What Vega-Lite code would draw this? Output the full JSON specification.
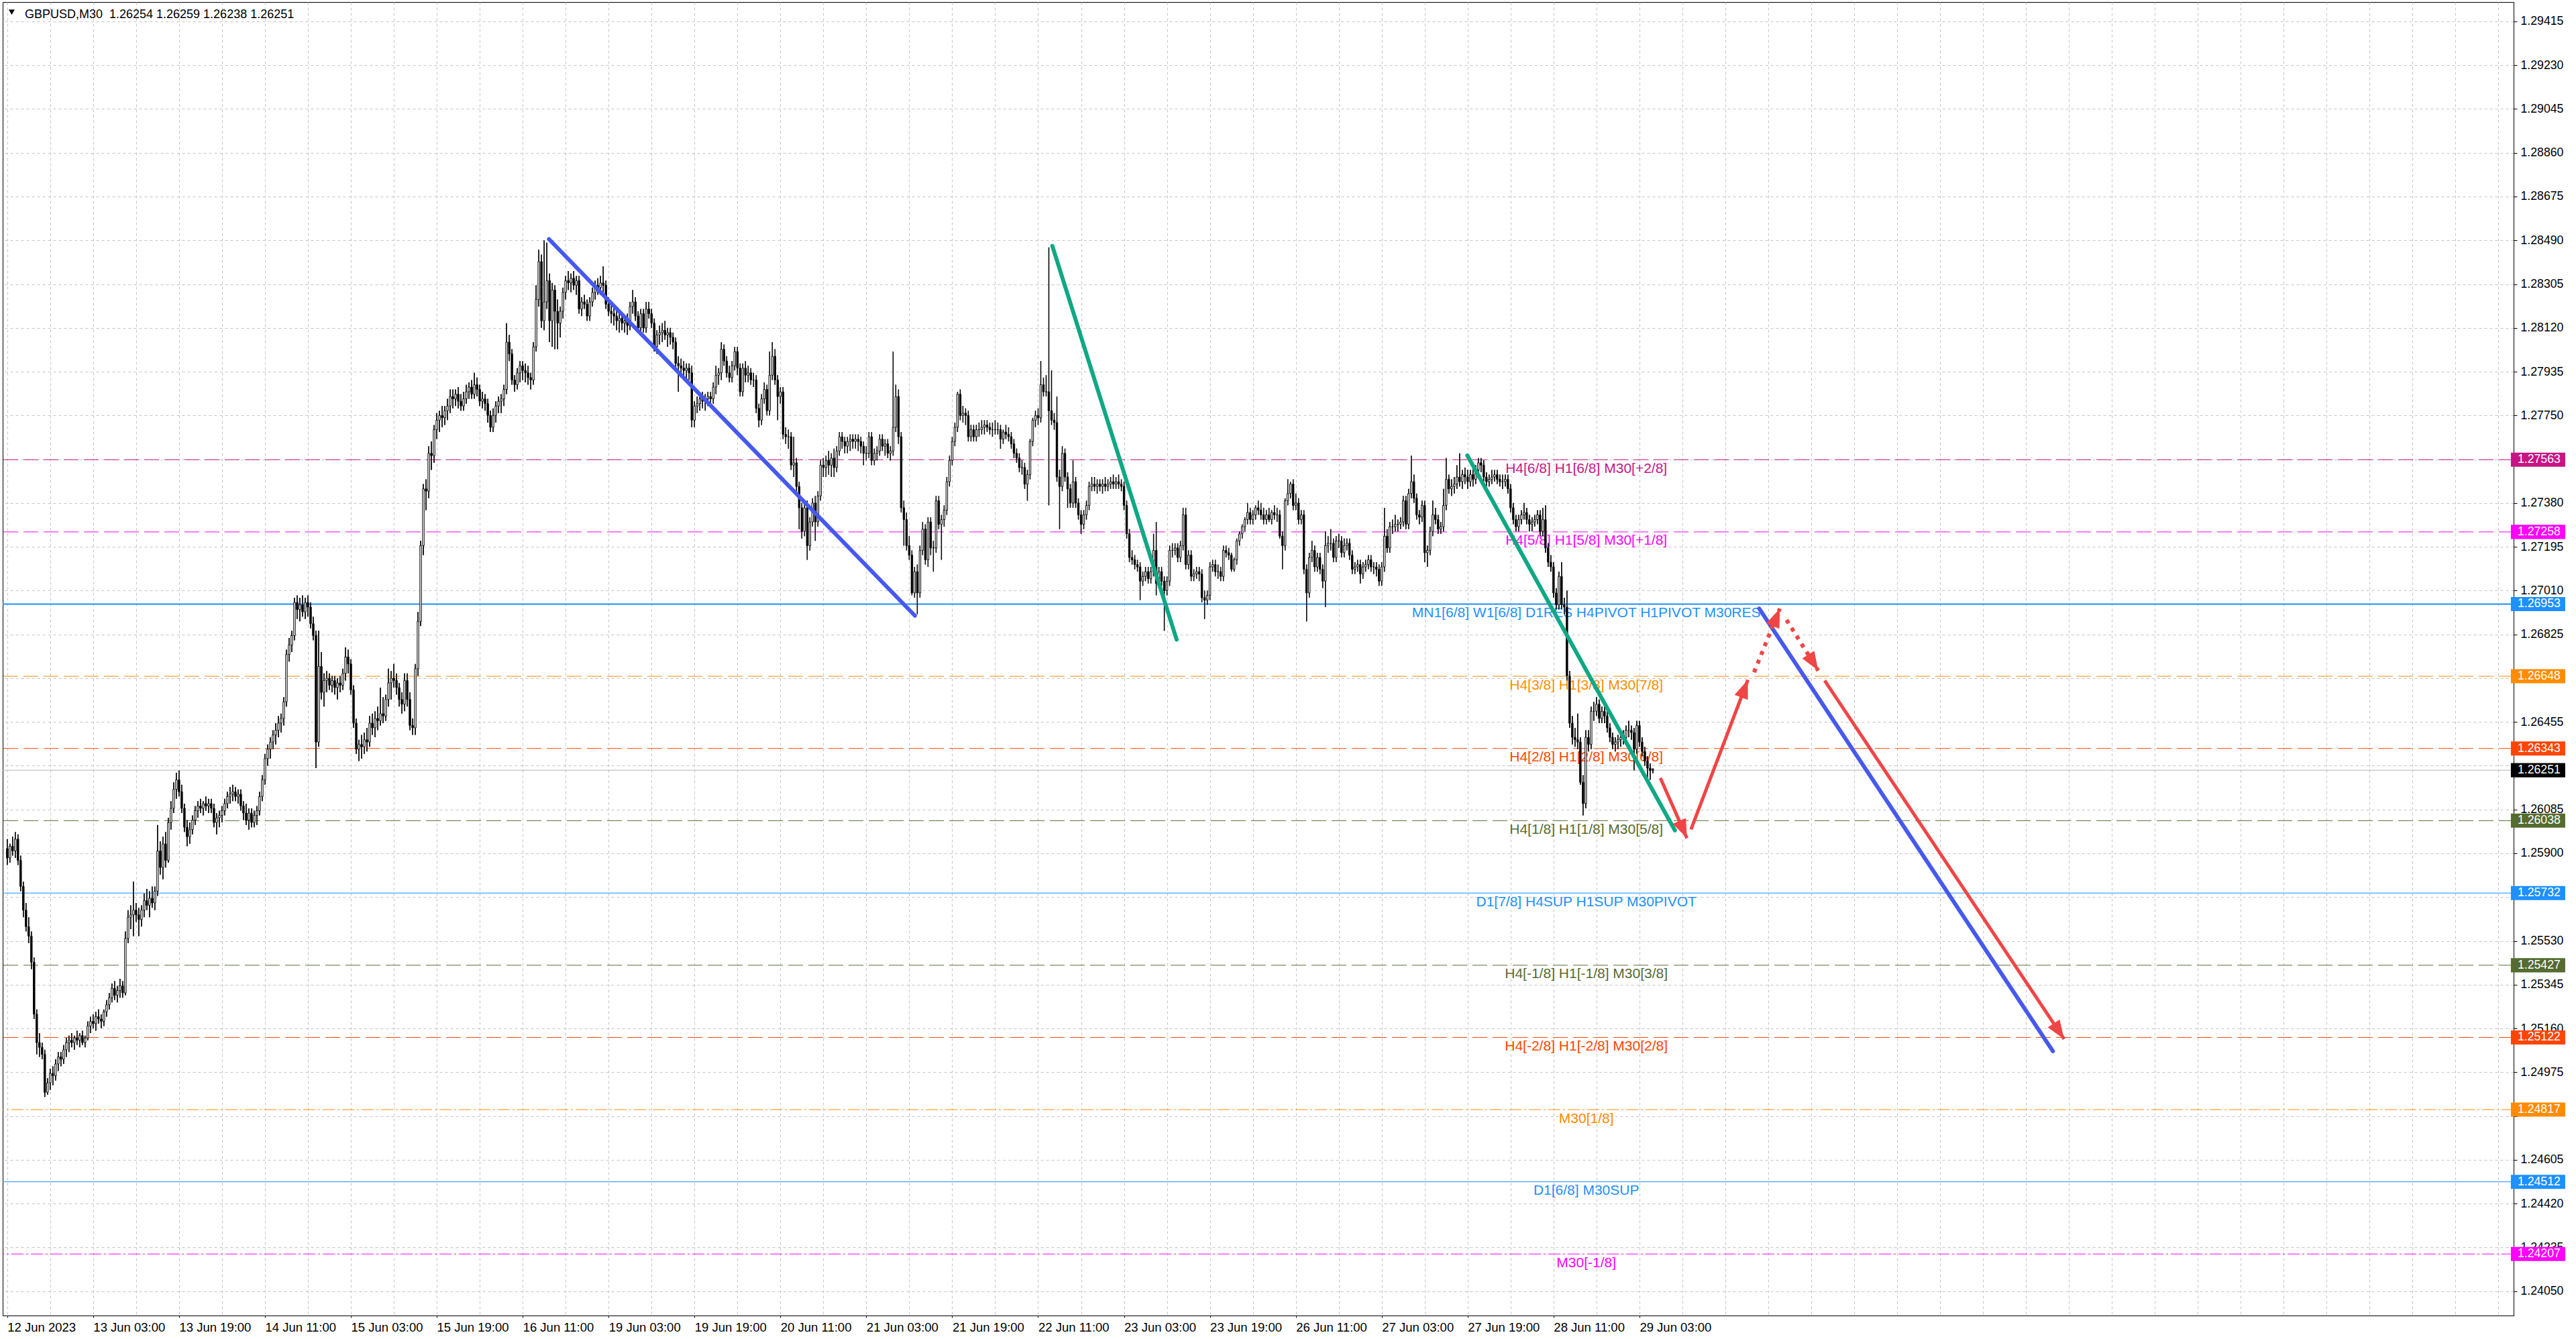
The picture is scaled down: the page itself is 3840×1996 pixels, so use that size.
{
"$schema":"https://vega.github.io/schema/vega-lite/v6.json",
"width":3743,"height":1958,
"autosize":{"type":"none"},
"padding":{"left":4,"top":3,"right":93,"bottom":35},
"background":"#ffffff",
"config":{"view":{"stroke":"#000000","strokeWidth":1},"font":"Liberation Sans"},
"datasets":{
"header":[{"txt":"GBPUSD,M30\u00a0 1.26254 1.26259 1.26238 1.26251"}],
"levels":[
{"price":1.27563,"lvl":"+2/8","label":"H4[6/8] H1[6/8] M30[+2/8]"},
{"price":1.27258,"lvl":"+1/8","label":"H4[5/8] H1[5/8] M30[+1/8]"},
{"price":1.26953,"lvl":"res","label":"MN1[6/8] W1[6/8] D1RES H4PIVOT H1PIVOT M30RES"},
{"price":1.26648,"lvl":"7/8","label":"H4[3/8] H1[3/8] M30[7/8]"},
{"price":1.26343,"lvl":"6/8","label":"H4[2/8] H1[2/8] M30[6/8]"},
{"price":1.26251,"lvl":"bid","label":""},
{"price":1.26038,"lvl":"5/8","label":"H4[1/8] H1[1/8] M30[5/8]"},
{"price":1.25732,"lvl":"pivot","label":"D1[7/8] H4SUP H1SUP M30PIVOT"},
{"price":1.25427,"lvl":"3/8","label":"H4[-1/8] H1[-1/8] M30[3/8]"},
{"price":1.25122,"lvl":"2/8","label":"H4[-2/8] H1[-2/8] M30[2/8]"},
{"price":1.24817,"lvl":"1/8","label":"M30[1/8]"},
{"price":1.24512,"lvl":"sup","label":"D1[6/8] M30SUP"},
{"price":1.24207,"lvl":"-1/8","label":"M30[-1/8]"}
],
"trend":[
{"id":"b1","i":201.8,"p":1.28495},{"id":"b1","i":338.1,"p":1.26904},
{"id":"g1","i":389.3,"p":1.28466},{"id":"g1","i":435.6,"p":1.26803},
{"id":"g2","i":543.9,"p":1.27581},{"id":"g2","i":621.2,"p":1.25997},
{"id":"b2","i":652.6,"p":1.26934},{"id":"b2","i":762.0,"p":1.25064}
],
"arrows":[
{"id":"a1","i":615.8,"p":1.26218},{"id":"a1","i":625.7,"p":1.25964},
{"id":"a2","i":627.2,"p":1.26001},{"id":"a2","i":648.4,"p":1.26633},
{"id":"a3","i":650.7,"p":1.26665},{"id":"a3","i":660.3,"p":1.26934},
{"id":"a4","i":662.8,"p":1.26886},{"id":"a4","i":674.6,"p":1.26672},
{"id":"a5","i":677.0,"p":1.26630},{"id":"a5","i":766.2,"p":1.25115}
],
"heads":[
{"id":"a1","i":625.7,"p":1.25964},
{"id":"a2","i":648.4,"p":1.26633},
{"id":"a3","i":660.3,"p":1.26934},
{"id":"a4","i":674.6,"p":1.26672},
{"id":"a5","i":766.2,"p":1.25115}
],
"candles":[
{"i":0,"o":1.2592,"h":1.2596,"l":1.2585,"c":1.2588},
{"i":1,"o":1.2588,"h":1.2594,"l":1.2586,"c":1.2593},
{"i":2,"o":1.2593,"h":1.2597,"l":1.2589,"c":1.2591},
{"i":3,"o":1.2591,"h":1.2599,"l":1.2588,"c":1.2596},
{"i":4,"o":1.2596,"h":1.2598,"l":1.2585,"c":1.2587},
{"i":5,"o":1.2587,"h":1.2589,"l":1.2574,"c":1.2576},
{"i":6,"o":1.2576,"h":1.2578,"l":1.2563,"c":1.2566},
{"i":7,"o":1.2566,"h":1.2569,"l":1.2557,"c":1.2559},
{"i":8,"o":1.2559,"h":1.2563,"l":1.2552,"c":1.2555},
{"i":9,"o":1.2555,"h":1.2557,"l":1.2541,"c":1.2544},
{"i":10,"o":1.2544,"h":1.2546,"l":1.2520,"c":1.2522},
{"i":11,"o":1.2522,"h":1.2524,"l":1.2505,"c":1.2510},
{"i":12,"o":1.2510,"h":1.2514,"l":1.2504,"c":1.2508},
{"i":13,"o":1.2508,"h":1.2510,"l":1.2503,"c":1.2505},
{"i":14,"o":1.2505,"h":1.2507,"l":1.2487,"c":1.2489},
{"i":15,"o":1.2489,"h":1.2495,"l":1.2488,"c":1.2493},
{"i":16,"o":1.2493,"h":1.2499,"l":1.2490,"c":1.2497},
{"i":17,"o":1.2497,"h":1.2500,"l":1.2492,"c":1.2496},
{"i":18,"o":1.2496,"h":1.2503,"l":1.2494,"c":1.2501},
{"i":19,"o":1.2501,"h":1.2506,"l":1.2498,"c":1.2504},
{"i":20,"o":1.2504,"h":1.2506,"l":1.2500,"c":1.2503},
{"i":21,"o":1.2503,"h":1.2509,"l":1.2501,"c":1.2507},
{"i":22,"o":1.2507,"h":1.2512,"l":1.2504,"c":1.2510},
{"i":23,"o":1.2510,"h":1.2513,"l":1.2506,"c":1.2511},
{"i":24,"o":1.2511,"h":1.2514,"l":1.2508,"c":1.2510},
{"i":25,"o":1.2510,"h":1.2513,"l":1.2507,"c":1.2512},
{"i":26,"o":1.2512,"h":1.2515,"l":1.2509,"c":1.2511},
{"i":27,"o":1.2511,"h":1.2514,"l":1.2508,"c":1.2513},
{"i":28,"o":1.2513,"h":1.2515,"l":1.2509,"c":1.2510},
{"i":29,"o":1.2510,"h":1.2513,"l":1.2508,"c":1.2512},
{"i":30,"o":1.2512,"h":1.2519,"l":1.2511,"c":1.2517},
{"i":31,"o":1.2517,"h":1.2521,"l":1.2514,"c":1.2519},
{"i":32,"o":1.2519,"h":1.2522,"l":1.2516,"c":1.2518},
{"i":33,"o":1.2518,"h":1.2523,"l":1.2515,"c":1.2521},
{"i":34,"o":1.2521,"h":1.2524,"l":1.2518,"c":1.2520},
{"i":35,"o":1.2520,"h":1.2522,"l":1.2516,"c":1.2519},
{"i":36,"o":1.2519,"h":1.2524,"l":1.2517,"c":1.2523},
{"i":37,"o":1.2523,"h":1.2528,"l":1.2521,"c":1.2526},
{"i":38,"o":1.2526,"h":1.2531,"l":1.2524,"c":1.2529},
{"i":39,"o":1.2529,"h":1.2535,"l":1.2527,"c":1.2533},
{"i":40,"o":1.2533,"h":1.2536,"l":1.2528,"c":1.2530},
{"i":41,"o":1.2530,"h":1.2534,"l":1.2527,"c":1.2532},
{"i":42,"o":1.2532,"h":1.2537,"l":1.2529,"c":1.2534},
{"i":43,"o":1.2534,"h":1.2536,"l":1.2529,"c":1.2531},
{"i":44,"o":1.2531,"h":1.2557,"l":1.2530,"c":1.2554},
{"i":45,"o":1.2554,"h":1.2566,"l":1.2552,"c":1.2563},
{"i":46,"o":1.2563,"h":1.2568,"l":1.2558,"c":1.2564},
{"i":47,"o":1.2564,"h":1.2578,"l":1.2555,"c":1.2566},
{"i":48,"o":1.2566,"h":1.2569,"l":1.2561,"c":1.2564},
{"i":49,"o":1.2564,"h":1.2567,"l":1.2555,"c":1.2562},
{"i":50,"o":1.2562,"h":1.2568,"l":1.2559,"c":1.2566},
{"i":51,"o":1.2566,"h":1.2573,"l":1.2563,"c":1.2570},
{"i":52,"o":1.2570,"h":1.2575,"l":1.2566,"c":1.2568},
{"i":53,"o":1.2568,"h":1.2574,"l":1.2563,"c":1.2571},
{"i":54,"o":1.2571,"h":1.2576,"l":1.2567,"c":1.2569},
{"i":55,"o":1.2569,"h":1.2576,"l":1.2566,"c":1.2574},
{"i":56,"o":1.2574,"h":1.2602,"l":1.2572,"c":1.2591},
{"i":57,"o":1.2591,"h":1.2595,"l":1.2581,"c":1.2584},
{"i":58,"o":1.2584,"h":1.2597,"l":1.2579,"c":1.2594},
{"i":59,"o":1.2594,"h":1.2599,"l":1.2584,"c":1.2587},
{"i":60,"o":1.2587,"h":1.2605,"l":1.2586,"c":1.2603},
{"i":61,"o":1.2603,"h":1.2612,"l":1.2600,"c":1.2609},
{"i":62,"o":1.2609,"h":1.2620,"l":1.2607,"c":1.2617},
{"i":63,"o":1.2617,"h":1.2624,"l":1.2613,"c":1.2621},
{"i":64,"o":1.2621,"h":1.2625,"l":1.2614,"c":1.2616},
{"i":65,"o":1.2616,"h":1.2619,"l":1.2607,"c":1.2609},
{"i":66,"o":1.2609,"h":1.2611,"l":1.2599,"c":1.2601},
{"i":67,"o":1.2601,"h":1.2604,"l":1.2593,"c":1.2597},
{"i":68,"o":1.2597,"h":1.2603,"l":1.2594,"c":1.2600},
{"i":69,"o":1.2600,"h":1.2606,"l":1.2598,"c":1.2604},
{"i":70,"o":1.2604,"h":1.2610,"l":1.2602,"c":1.2608},
{"i":71,"o":1.2608,"h":1.2612,"l":1.2605,"c":1.2610},
{"i":72,"o":1.2610,"h":1.2613,"l":1.2607,"c":1.2609},
{"i":73,"o":1.2609,"h":1.2612,"l":1.2606,"c":1.2611},
{"i":74,"o":1.2611,"h":1.2614,"l":1.2608,"c":1.2610},
{"i":75,"o":1.2610,"h":1.2613,"l":1.2607,"c":1.2611},
{"i":76,"o":1.2611,"h":1.2613,"l":1.2607,"c":1.2609},
{"i":77,"o":1.2609,"h":1.2611,"l":1.2601,"c":1.2603},
{"i":78,"o":1.2603,"h":1.2607,"l":1.2598,"c":1.2605},
{"i":79,"o":1.2605,"h":1.2608,"l":1.2601,"c":1.2606},
{"i":80,"o":1.2606,"h":1.2610,"l":1.2603,"c":1.2608},
{"i":81,"o":1.2608,"h":1.2613,"l":1.2606,"c":1.2611},
{"i":82,"o":1.2611,"h":1.2616,"l":1.2609,"c":1.2614},
{"i":83,"o":1.2614,"h":1.2618,"l":1.2611,"c":1.2615},
{"i":84,"o":1.2615,"h":1.2619,"l":1.2612,"c":1.2616},
{"i":85,"o":1.2616,"h":1.2618,"l":1.2612,"c":1.2614},
{"i":86,"o":1.2614,"h":1.2617,"l":1.2611,"c":1.2615},
{"i":87,"o":1.2615,"h":1.2617,"l":1.2608,"c":1.2610},
{"i":88,"o":1.2610,"h":1.2612,"l":1.2604,"c":1.2607},
{"i":89,"o":1.2607,"h":1.2611,"l":1.2602,"c":1.2604},
{"i":90,"o":1.2604,"h":1.2609,"l":1.2600,"c":1.2607},
{"i":91,"o":1.2607,"h":1.2609,"l":1.2601,"c":1.2603},
{"i":92,"o":1.2603,"h":1.2608,"l":1.2601,"c":1.2606},
{"i":93,"o":1.2606,"h":1.2610,"l":1.2602,"c":1.2608},
{"i":94,"o":1.2608,"h":1.2616,"l":1.2606,"c":1.2614},
{"i":95,"o":1.2614,"h":1.2623,"l":1.2612,"c":1.2621},
{"i":96,"o":1.2621,"h":1.2632,"l":1.2619,"c":1.2630},
{"i":97,"o":1.2630,"h":1.2636,"l":1.2627,"c":1.2634},
{"i":98,"o":1.2634,"h":1.2639,"l":1.2630,"c":1.2637},
{"i":99,"o":1.2637,"h":1.2642,"l":1.2634,"c":1.2640},
{"i":100,"o":1.2640,"h":1.2645,"l":1.2636,"c":1.2642},
{"i":101,"o":1.2642,"h":1.2648,"l":1.2639,"c":1.2645},
{"i":102,"o":1.2645,"h":1.2649,"l":1.2641,"c":1.2647},
{"i":103,"o":1.2647,"h":1.2656,"l":1.2644,"c":1.2654},
{"i":104,"o":1.2654,"h":1.2676,"l":1.2652,"c":1.2674},
{"i":105,"o":1.2674,"h":1.2681,"l":1.2671,"c":1.2678},
{"i":106,"o":1.2678,"h":1.2684,"l":1.2675,"c":1.2682},
{"i":107,"o":1.2682,"h":1.2698,"l":1.2680,"c":1.2696},
{"i":108,"o":1.2696,"h":1.2699,"l":1.2689,"c":1.2693},
{"i":109,"o":1.2693,"h":1.2698,"l":1.2688,"c":1.2695},
{"i":110,"o":1.2695,"h":1.2699,"l":1.2690,"c":1.2692},
{"i":111,"o":1.2692,"h":1.2698,"l":1.2689,"c":1.2696},
{"i":112,"o":1.2696,"h":1.2699,"l":1.2690,"c":1.2694},
{"i":113,"o":1.2694,"h":1.2696,"l":1.2685,"c":1.2687},
{"i":114,"o":1.2687,"h":1.2690,"l":1.2680,"c":1.2682},
{"i":115,"o":1.2682,"h":1.2684,"l":1.2626,"c":1.2637},
{"i":116,"o":1.2637,"h":1.2684,"l":1.2635,"c":1.2669},
{"i":117,"o":1.2669,"h":1.2675,"l":1.2655,"c":1.2658},
{"i":118,"o":1.2658,"h":1.2666,"l":1.2652,"c":1.2663},
{"i":119,"o":1.2663,"h":1.2667,"l":1.2658,"c":1.2664},
{"i":120,"o":1.2664,"h":1.2666,"l":1.2659,"c":1.2661},
{"i":121,"o":1.2661,"h":1.2665,"l":1.2658,"c":1.2663},
{"i":122,"o":1.2663,"h":1.2665,"l":1.2657,"c":1.2660},
{"i":123,"o":1.2660,"h":1.2664,"l":1.2655,"c":1.2662},
{"i":124,"o":1.2662,"h":1.2665,"l":1.2658,"c":1.2661},
{"i":125,"o":1.2661,"h":1.2668,"l":1.2659,"c":1.2666},
{"i":126,"o":1.2666,"h":1.2677,"l":1.2663,"c":1.2673},
{"i":127,"o":1.2673,"h":1.2676,"l":1.2666,"c":1.2670},
{"i":128,"o":1.2670,"h":1.2672,"l":1.2657,"c":1.2659},
{"i":129,"o":1.2659,"h":1.2661,"l":1.2643,"c":1.2645},
{"i":130,"o":1.2645,"h":1.2647,"l":1.2632,"c":1.2634},
{"i":131,"o":1.2634,"h":1.2638,"l":1.2629,"c":1.2636},
{"i":132,"o":1.2636,"h":1.2640,"l":1.2630,"c":1.2635},
{"i":133,"o":1.2635,"h":1.2641,"l":1.2632,"c":1.2638},
{"i":134,"o":1.2638,"h":1.2643,"l":1.2633,"c":1.2637},
{"i":135,"o":1.2637,"h":1.2648,"l":1.2635,"c":1.2645},
{"i":136,"o":1.2645,"h":1.2649,"l":1.2640,"c":1.2643},
{"i":137,"o":1.2643,"h":1.2650,"l":1.2639,"c":1.2647},
{"i":138,"o":1.2647,"h":1.2652,"l":1.2642,"c":1.2646},
{"i":139,"o":1.2646,"h":1.2660,"l":1.2644,"c":1.2649},
{"i":140,"o":1.2649,"h":1.2656,"l":1.2645,"c":1.2648},
{"i":141,"o":1.2648,"h":1.2657,"l":1.2646,"c":1.2655},
{"i":142,"o":1.2655,"h":1.2668,"l":1.2652,"c":1.2662},
{"i":143,"o":1.2662,"h":1.2667,"l":1.2655,"c":1.2664},
{"i":144,"o":1.2664,"h":1.2670,"l":1.2660,"c":1.2663},
{"i":145,"o":1.2663,"h":1.2666,"l":1.2657,"c":1.2660},
{"i":146,"o":1.2660,"h":1.2662,"l":1.2652,"c":1.2655},
{"i":147,"o":1.2655,"h":1.2658,"l":1.2649,"c":1.2653},
{"i":148,"o":1.2653,"h":1.2666,"l":1.2650,"c":1.2663},
{"i":149,"o":1.2663,"h":1.2666,"l":1.2652,"c":1.2655},
{"i":150,"o":1.2655,"h":1.2658,"l":1.2642,"c":1.2644},
{"i":151,"o":1.2644,"h":1.2647,"l":1.2640,"c":1.2643},
{"i":152,"o":1.2643,"h":1.2670,"l":1.2640,"c":1.2668},
{"i":153,"o":1.2668,"h":1.2692,"l":1.2665,"c":1.2688},
{"i":154,"o":1.2688,"h":1.2722,"l":1.2686,"c":1.2720},
{"i":155,"o":1.2720,"h":1.2746,"l":1.2716,"c":1.2744},
{"i":156,"o":1.2744,"h":1.2748,"l":1.2735,"c":1.2743},
{"i":157,"o":1.2743,"h":1.2762,"l":1.2740,"c":1.2759},
{"i":158,"o":1.2759,"h":1.2764,"l":1.2752,"c":1.2758},
{"i":159,"o":1.2758,"h":1.2771,"l":1.2755,"c":1.2769},
{"i":160,"o":1.2769,"h":1.2776,"l":1.2765,"c":1.2773},
{"i":161,"o":1.2773,"h":1.2777,"l":1.2768,"c":1.2775},
{"i":162,"o":1.2775,"h":1.2779,"l":1.2770,"c":1.2774},
{"i":163,"o":1.2774,"h":1.2779,"l":1.2771,"c":1.2777},
{"i":164,"o":1.2777,"h":1.2782,"l":1.2773,"c":1.2779},
{"i":165,"o":1.2779,"h":1.2786,"l":1.2776,"c":1.2783},
{"i":166,"o":1.2783,"h":1.2786,"l":1.2778,"c":1.2782},
{"i":167,"o":1.2782,"h":1.2786,"l":1.2779,"c":1.2784},
{"i":168,"o":1.2784,"h":1.2787,"l":1.2778,"c":1.2781},
{"i":169,"o":1.2781,"h":1.2784,"l":1.2777,"c":1.2779},
{"i":170,"o":1.2779,"h":1.2785,"l":1.2777,"c":1.2782},
{"i":171,"o":1.2782,"h":1.2788,"l":1.2780,"c":1.2785},
{"i":172,"o":1.2785,"h":1.2789,"l":1.2782,"c":1.2787},
{"i":173,"o":1.2787,"h":1.2790,"l":1.2782,"c":1.2784},
{"i":174,"o":1.2784,"h":1.2793,"l":1.2782,"c":1.2788},
{"i":175,"o":1.2788,"h":1.2791,"l":1.2783,"c":1.2786},
{"i":176,"o":1.2786,"h":1.2788,"l":1.2779,"c":1.2781},
{"i":177,"o":1.2781,"h":1.2785,"l":1.2778,"c":1.2782},
{"i":178,"o":1.2782,"h":1.2784,"l":1.2777,"c":1.2780},
{"i":179,"o":1.2780,"h":1.2782,"l":1.2772,"c":1.2775},
{"i":180,"o":1.2775,"h":1.2777,"l":1.2768,"c":1.2770},
{"i":181,"o":1.2770,"h":1.2778,"l":1.2768,"c":1.2775},
{"i":182,"o":1.2775,"h":1.2781,"l":1.2772,"c":1.2779},
{"i":183,"o":1.2779,"h":1.2783,"l":1.2776,"c":1.2781},
{"i":184,"o":1.2781,"h":1.2784,"l":1.2776,"c":1.2782},
{"i":185,"o":1.2782,"h":1.2788,"l":1.2779,"c":1.2786},
{"i":186,"o":1.2786,"h":1.2814,"l":1.2784,"c":1.2806},
{"i":187,"o":1.2806,"h":1.2809,"l":1.2798,"c":1.2801},
{"i":188,"o":1.2801,"h":1.2803,"l":1.2788,"c":1.2790},
{"i":189,"o":1.2790,"h":1.2792,"l":1.2785,"c":1.2788},
{"i":190,"o":1.2788,"h":1.2795,"l":1.2786,"c":1.2793},
{"i":191,"o":1.2793,"h":1.2798,"l":1.2789,"c":1.2796},
{"i":192,"o":1.2796,"h":1.2798,"l":1.2790,"c":1.2794},
{"i":193,"o":1.2794,"h":1.2797,"l":1.2789,"c":1.2793},
{"i":194,"o":1.2793,"h":1.2796,"l":1.2788,"c":1.2791},
{"i":195,"o":1.2791,"h":1.2793,"l":1.2786,"c":1.2790},
{"i":196,"o":1.2790,"h":1.2806,"l":1.2788,"c":1.2804},
{"i":197,"o":1.2804,"h":1.2830,"l":1.2802,"c":1.2824},
{"i":198,"o":1.2824,"h":1.2845,"l":1.2821,"c":1.2840},
{"i":199,"o":1.2840,"h":1.2843,"l":1.2812,"c":1.2815},
{"i":200,"o":1.2815,"h":1.2849,"l":1.2811,"c":1.2823},
{"i":201,"o":1.2823,"h":1.2848,"l":1.2820,"c":1.2832},
{"i":202,"o":1.2832,"h":1.2835,"l":1.2806,"c":1.2815},
{"i":203,"o":1.2815,"h":1.2831,"l":1.2804,"c":1.2828},
{"i":204,"o":1.2828,"h":1.2830,"l":1.2803,"c":1.2819},
{"i":205,"o":1.2819,"h":1.2824,"l":1.2803,"c":1.2814},
{"i":206,"o":1.2814,"h":1.2821,"l":1.2808,"c":1.2819},
{"i":207,"o":1.2819,"h":1.2829,"l":1.2816,"c":1.2827},
{"i":208,"o":1.2827,"h":1.2834,"l":1.2824,"c":1.2832},
{"i":209,"o":1.2832,"h":1.2836,"l":1.2828,"c":1.2831},
{"i":210,"o":1.2831,"h":1.2835,"l":1.2827,"c":1.2833},
{"i":211,"o":1.2833,"h":1.2836,"l":1.2828,"c":1.2830},
{"i":212,"o":1.2830,"h":1.2834,"l":1.2826,"c":1.2832},
{"i":213,"o":1.2832,"h":1.2834,"l":1.2818,"c":1.2820},
{"i":214,"o":1.2820,"h":1.2825,"l":1.2817,"c":1.2823},
{"i":215,"o":1.2823,"h":1.2826,"l":1.2820,"c":1.2822},
{"i":216,"o":1.2822,"h":1.2824,"l":1.2815,"c":1.2817},
{"i":217,"o":1.2817,"h":1.2825,"l":1.2815,"c":1.2823},
{"i":218,"o":1.2823,"h":1.2829,"l":1.2821,"c":1.2827},
{"i":219,"o":1.2827,"h":1.2832,"l":1.2824,"c":1.2830},
{"i":220,"o":1.2830,"h":1.2833,"l":1.2826,"c":1.2829},
{"i":221,"o":1.2829,"h":1.2834,"l":1.2826,"c":1.2831},
{"i":222,"o":1.2831,"h":1.2838,"l":1.2827,"c":1.2830},
{"i":223,"o":1.2830,"h":1.2832,"l":1.2820,"c":1.2822},
{"i":224,"o":1.2822,"h":1.2825,"l":1.2817,"c":1.2819},
{"i":225,"o":1.2819,"h":1.2822,"l":1.2814,"c":1.2818},
{"i":226,"o":1.2818,"h":1.2821,"l":1.2813,"c":1.2817},
{"i":227,"o":1.2817,"h":1.2820,"l":1.2811,"c":1.2815},
{"i":228,"o":1.2815,"h":1.2818,"l":1.2810,"c":1.2816},
{"i":229,"o":1.2816,"h":1.2818,"l":1.2811,"c":1.2814},
{"i":230,"o":1.2814,"h":1.2817,"l":1.2810,"c":1.2815},
{"i":231,"o":1.2815,"h":1.2818,"l":1.2809,"c":1.2813},
{"i":232,"o":1.2813,"h":1.2823,"l":1.2811,"c":1.2821},
{"i":233,"o":1.2821,"h":1.2828,"l":1.2818,"c":1.2823},
{"i":234,"o":1.2823,"h":1.2825,"l":1.2815,"c":1.2817},
{"i":235,"o":1.2817,"h":1.2819,"l":1.2810,"c":1.2812},
{"i":236,"o":1.2812,"h":1.2820,"l":1.2810,"c":1.2818},
{"i":237,"o":1.2818,"h":1.2820,"l":1.2810,"c":1.2812},
{"i":238,"o":1.2812,"h":1.2823,"l":1.2810,"c":1.2820},
{"i":239,"o":1.2820,"h":1.2823,"l":1.2816,"c":1.2818},
{"i":240,"o":1.2818,"h":1.2820,"l":1.2812,"c":1.2814},
{"i":241,"o":1.2814,"h":1.2816,"l":1.2802,"c":1.2804},
{"i":242,"o":1.2804,"h":1.2811,"l":1.2801,"c":1.2809},
{"i":243,"o":1.2809,"h":1.2813,"l":1.2805,"c":1.2810},
{"i":244,"o":1.2810,"h":1.2814,"l":1.2806,"c":1.2811},
{"i":245,"o":1.2811,"h":1.2815,"l":1.2807,"c":1.2809},
{"i":246,"o":1.2809,"h":1.2812,"l":1.2804,"c":1.2810},
{"i":247,"o":1.2810,"h":1.2812,"l":1.2805,"c":1.2808},
{"i":248,"o":1.2808,"h":1.2810,"l":1.2803,"c":1.2806},
{"i":249,"o":1.2806,"h":1.2808,"l":1.2795,"c":1.2797},
{"i":250,"o":1.2797,"h":1.2800,"l":1.2785,"c":1.2796},
{"i":251,"o":1.2796,"h":1.2799,"l":1.2791,"c":1.2795},
{"i":252,"o":1.2795,"h":1.2798,"l":1.2790,"c":1.2794},
{"i":253,"o":1.2794,"h":1.2797,"l":1.2789,"c":1.2795},
{"i":254,"o":1.2795,"h":1.2797,"l":1.2790,"c":1.2793},
{"i":255,"o":1.2793,"h":1.2796,"l":1.2770,"c":1.2773},
{"i":256,"o":1.2773,"h":1.2781,"l":1.2770,"c":1.2779},
{"i":257,"o":1.2779,"h":1.2783,"l":1.2776,"c":1.2780},
{"i":258,"o":1.2780,"h":1.2784,"l":1.2777,"c":1.2782},
{"i":259,"o":1.2782,"h":1.2785,"l":1.2778,"c":1.2781},
{"i":260,"o":1.2781,"h":1.2784,"l":1.2777,"c":1.2782},
{"i":261,"o":1.2782,"h":1.2785,"l":1.2779,"c":1.2783},
{"i":262,"o":1.2783,"h":1.2785,"l":1.2779,"c":1.2782},
{"i":263,"o":1.2782,"h":1.2789,"l":1.2780,"c":1.2787},
{"i":264,"o":1.2787,"h":1.2796,"l":1.2784,"c":1.2792},
{"i":265,"o":1.2792,"h":1.2795,"l":1.2788,"c":1.2793},
{"i":266,"o":1.2793,"h":1.2806,"l":1.2790,"c":1.2803},
{"i":267,"o":1.2803,"h":1.2805,"l":1.2796,"c":1.2798},
{"i":268,"o":1.2798,"h":1.2800,"l":1.2791,"c":1.2793},
{"i":269,"o":1.2793,"h":1.2796,"l":1.2789,"c":1.2791},
{"i":270,"o":1.2791,"h":1.2798,"l":1.2789,"c":1.2796},
{"i":271,"o":1.2796,"h":1.2804,"l":1.2794,"c":1.2802},
{"i":272,"o":1.2802,"h":1.2804,"l":1.2792,"c":1.2795},
{"i":273,"o":1.2795,"h":1.2797,"l":1.2783,"c":1.2785},
{"i":274,"o":1.2785,"h":1.2797,"l":1.2783,"c":1.2795},
{"i":275,"o":1.2795,"h":1.2798,"l":1.2789,"c":1.2792},
{"i":276,"o":1.2792,"h":1.2796,"l":1.2789,"c":1.2793},
{"i":277,"o":1.2793,"h":1.2795,"l":1.2788,"c":1.2790},
{"i":278,"o":1.2790,"h":1.2793,"l":1.2787,"c":1.2790},
{"i":279,"o":1.2790,"h":1.2792,"l":1.2776,"c":1.2778},
{"i":280,"o":1.2778,"h":1.2780,"l":1.2770,"c":1.2773},
{"i":281,"o":1.2773,"h":1.2784,"l":1.2771,"c":1.2782},
{"i":282,"o":1.2782,"h":1.2789,"l":1.2780,"c":1.2786},
{"i":283,"o":1.2786,"h":1.2788,"l":1.2775,"c":1.2777},
{"i":284,"o":1.2777,"h":1.2802,"l":1.2775,"c":1.2792},
{"i":285,"o":1.2792,"h":1.2806,"l":1.2790,"c":1.2800},
{"i":286,"o":1.2800,"h":1.2803,"l":1.2788,"c":1.2790},
{"i":287,"o":1.2790,"h":1.2792,"l":1.2773,"c":1.2783},
{"i":288,"o":1.2783,"h":1.2787,"l":1.2780,"c":1.2785},
{"i":289,"o":1.2785,"h":1.2787,"l":1.2765,"c":1.2767},
{"i":290,"o":1.2767,"h":1.2770,"l":1.2763,"c":1.2766},
{"i":291,"o":1.2766,"h":1.2769,"l":1.2761,"c":1.2766},
{"i":292,"o":1.2766,"h":1.2768,"l":1.2752,"c":1.2754},
{"i":293,"o":1.2754,"h":1.2766,"l":1.2749,"c":1.2755},
{"i":294,"o":1.2755,"h":1.2757,"l":1.2743,"c":1.2745},
{"i":295,"o":1.2745,"h":1.2747,"l":1.2727,"c":1.2736},
{"i":296,"o":1.2736,"h":1.2738,"l":1.2723,"c":1.2726},
{"i":297,"o":1.2726,"h":1.2738,"l":1.2724,"c":1.2736},
{"i":298,"o":1.2736,"h":1.2739,"l":1.2714,"c":1.2720},
{"i":299,"o":1.2720,"h":1.2732,"l":1.2718,"c":1.2730},
{"i":300,"o":1.2730,"h":1.2740,"l":1.2728,"c":1.2738},
{"i":301,"o":1.2738,"h":1.2741,"l":1.2722,"c":1.2730},
{"i":302,"o":1.2730,"h":1.2743,"l":1.2728,"c":1.2741},
{"i":303,"o":1.2741,"h":1.2756,"l":1.2739,"c":1.2754},
{"i":304,"o":1.2754,"h":1.2757,"l":1.2749,"c":1.2753},
{"i":305,"o":1.2753,"h":1.2758,"l":1.2749,"c":1.2756},
{"i":306,"o":1.2756,"h":1.2760,"l":1.2750,"c":1.2754},
{"i":307,"o":1.2754,"h":1.2759,"l":1.2749,"c":1.2757},
{"i":308,"o":1.2757,"h":1.2761,"l":1.2749,"c":1.2753},
{"i":309,"o":1.2753,"h":1.2762,"l":1.2751,"c":1.2760},
{"i":310,"o":1.2760,"h":1.2768,"l":1.2758,"c":1.2766},
{"i":311,"o":1.2766,"h":1.2768,"l":1.2761,"c":1.2764},
{"i":312,"o":1.2764,"h":1.2766,"l":1.2759,"c":1.2762},
{"i":313,"o":1.2762,"h":1.2766,"l":1.2759,"c":1.2764},
{"i":314,"o":1.2764,"h":1.2767,"l":1.2760,"c":1.2765},
{"i":315,"o":1.2765,"h":1.2767,"l":1.2761,"c":1.2764},
{"i":316,"o":1.2764,"h":1.2767,"l":1.2761,"c":1.2765},
{"i":317,"o":1.2765,"h":1.2767,"l":1.2760,"c":1.2764},
{"i":318,"o":1.2764,"h":1.2766,"l":1.2759,"c":1.2762},
{"i":319,"o":1.2762,"h":1.2764,"l":1.2754,"c":1.2759},
{"i":320,"o":1.2759,"h":1.2762,"l":1.2756,"c":1.2759},
{"i":321,"o":1.2759,"h":1.2768,"l":1.2757,"c":1.2766},
{"i":322,"o":1.2766,"h":1.2768,"l":1.2754,"c":1.2756},
{"i":323,"o":1.2756,"h":1.2761,"l":1.2754,"c":1.2759},
{"i":324,"o":1.2759,"h":1.2762,"l":1.2756,"c":1.2760},
{"i":325,"o":1.2760,"h":1.2767,"l":1.2758,"c":1.2765},
{"i":326,"o":1.2765,"h":1.2767,"l":1.2760,"c":1.2762},
{"i":327,"o":1.2762,"h":1.2765,"l":1.2758,"c":1.2763},
{"i":328,"o":1.2763,"h":1.2765,"l":1.2757,"c":1.2759},
{"i":329,"o":1.2759,"h":1.2762,"l":1.2756,"c":1.2760},
{"i":330,"o":1.2760,"h":1.2802,"l":1.2758,"c":1.2770},
{"i":331,"o":1.2770,"h":1.2788,"l":1.2768,"c":1.2783},
{"i":332,"o":1.2783,"h":1.2786,"l":1.2763,"c":1.2766},
{"i":333,"o":1.2766,"h":1.2768,"l":1.2734,"c":1.2736},
{"i":334,"o":1.2736,"h":1.2739,"l":1.2720,"c":1.2731},
{"i":335,"o":1.2731,"h":1.2734,"l":1.2718,"c":1.2720},
{"i":336,"o":1.2720,"h":1.2724,"l":1.2714,"c":1.2716},
{"i":337,"o":1.2716,"h":1.2718,"l":1.2699,"c":1.2700},
{"i":338,"o":1.2700,"h":1.2711,"l":1.2698,"c":1.2709},
{"i":339,"o":1.2709,"h":1.2712,"l":1.2691,"c":1.2700},
{"i":340,"o":1.2700,"h":1.2720,"l":1.2698,"c":1.2718},
{"i":341,"o":1.2718,"h":1.2730,"l":1.2716,"c":1.2727},
{"i":342,"o":1.2727,"h":1.2729,"l":1.2712,"c":1.2714},
{"i":343,"o":1.2714,"h":1.2732,"l":1.2711,"c":1.2730},
{"i":344,"o":1.2730,"h":1.2732,"l":1.2716,"c":1.2719},
{"i":345,"o":1.2719,"h":1.2722,"l":1.2709,"c":1.2719},
{"i":346,"o":1.2719,"h":1.2741,"l":1.2717,"c":1.2739},
{"i":347,"o":1.2739,"h":1.2741,"l":1.2727,"c":1.2729},
{"i":348,"o":1.2729,"h":1.2733,"l":1.2714,"c":1.2731},
{"i":349,"o":1.2731,"h":1.2737,"l":1.2728,"c":1.2735},
{"i":350,"o":1.2735,"h":1.2749,"l":1.2733,"c":1.2747},
{"i":351,"o":1.2747,"h":1.2758,"l":1.2745,"c":1.2756},
{"i":352,"o":1.2756,"h":1.2766,"l":1.2754,"c":1.2764},
{"i":353,"o":1.2764,"h":1.2772,"l":1.2762,"c":1.2770},
{"i":354,"o":1.2770,"h":1.2785,"l":1.2768,"c":1.2784},
{"i":355,"o":1.2784,"h":1.2786,"l":1.2773,"c":1.2775},
{"i":356,"o":1.2775,"h":1.2779,"l":1.2772,"c":1.2776},
{"i":357,"o":1.2776,"h":1.2778,"l":1.2771,"c":1.2775},
{"i":358,"o":1.2775,"h":1.2777,"l":1.2764,"c":1.2766},
{"i":359,"o":1.2766,"h":1.2771,"l":1.2764,"c":1.2769},
{"i":360,"o":1.2769,"h":1.2771,"l":1.2764,"c":1.2766},
{"i":361,"o":1.2766,"h":1.2771,"l":1.2764,"c":1.2769},
{"i":362,"o":1.2769,"h":1.2772,"l":1.2766,"c":1.2769},
{"i":363,"o":1.2769,"h":1.2773,"l":1.2767,"c":1.2770},
{"i":364,"o":1.2770,"h":1.2773,"l":1.2767,"c":1.2771},
{"i":365,"o":1.2771,"h":1.2773,"l":1.2768,"c":1.2770},
{"i":366,"o":1.2770,"h":1.2772,"l":1.2767,"c":1.2769},
{"i":367,"o":1.2769,"h":1.2772,"l":1.2766,"c":1.2769},
{"i":368,"o":1.2769,"h":1.2773,"l":1.2767,"c":1.2769},
{"i":369,"o":1.2769,"h":1.2772,"l":1.2767,"c":1.2769},
{"i":370,"o":1.2769,"h":1.2771,"l":1.2761,"c":1.2765},
{"i":371,"o":1.2765,"h":1.2769,"l":1.2763,"c":1.2768},
{"i":372,"o":1.2768,"h":1.2771,"l":1.2765,"c":1.2767},
{"i":373,"o":1.2767,"h":1.2770,"l":1.2764,"c":1.2766},
{"i":374,"o":1.2766,"h":1.2768,"l":1.2761,"c":1.2763},
{"i":375,"o":1.2763,"h":1.2765,"l":1.2757,"c":1.2759},
{"i":376,"o":1.2759,"h":1.2761,"l":1.2755,"c":1.2757},
{"i":377,"o":1.2757,"h":1.2759,"l":1.2751,"c":1.2753},
{"i":378,"o":1.2753,"h":1.2756,"l":1.2750,"c":1.2753},
{"i":379,"o":1.2753,"h":1.2755,"l":1.2744,"c":1.2746},
{"i":380,"o":1.2746,"h":1.2752,"l":1.2739,"c":1.2750},
{"i":381,"o":1.2750,"h":1.2765,"l":1.2748,"c":1.2764},
{"i":382,"o":1.2764,"h":1.2774,"l":1.2762,"c":1.2773},
{"i":383,"o":1.2773,"h":1.2777,"l":1.2770,"c":1.2775},
{"i":384,"o":1.2775,"h":1.2778,"l":1.2771,"c":1.2774},
{"i":385,"o":1.2774,"h":1.2798,"l":1.2772,"c":1.2788},
{"i":386,"o":1.2788,"h":1.2791,"l":1.2783,"c":1.2785},
{"i":387,"o":1.2785,"h":1.2792,"l":1.2783,"c":1.2785},
{"i":388,"o":1.2785,"h":1.2846,"l":1.2737,"c":1.2777},
{"i":389,"o":1.2777,"h":1.2794,"l":1.2771,"c":1.2773},
{"i":390,"o":1.2773,"h":1.2776,"l":1.2769,"c":1.2772},
{"i":391,"o":1.2772,"h":1.2783,"l":1.2747,"c":1.2749},
{"i":392,"o":1.2749,"h":1.2752,"l":1.2727,"c":1.2745},
{"i":393,"o":1.2745,"h":1.2762,"l":1.2743,"c":1.2759},
{"i":394,"o":1.2759,"h":1.2761,"l":1.2747,"c":1.2749},
{"i":395,"o":1.2749,"h":1.2751,"l":1.2736,"c":1.2744},
{"i":396,"o":1.2744,"h":1.2746,"l":1.2736,"c":1.2738},
{"i":397,"o":1.2738,"h":1.2756,"l":1.2736,"c":1.2747},
{"i":398,"o":1.2747,"h":1.2749,"l":1.2736,"c":1.2738},
{"i":399,"o":1.2738,"h":1.2740,"l":1.2731,"c":1.2733},
{"i":400,"o":1.2733,"h":1.2735,"l":1.2725,"c":1.2729},
{"i":401,"o":1.2729,"h":1.2735,"l":1.2727,"c":1.2733},
{"i":402,"o":1.2733,"h":1.2739,"l":1.2731,"c":1.2737},
{"i":403,"o":1.2737,"h":1.2747,"l":1.2735,"c":1.2745},
{"i":404,"o":1.2745,"h":1.2749,"l":1.2743,"c":1.2746},
{"i":405,"o":1.2746,"h":1.2749,"l":1.2743,"c":1.2745},
{"i":406,"o":1.2745,"h":1.2748,"l":1.2742,"c":1.2746},
{"i":407,"o":1.2746,"h":1.2748,"l":1.2743,"c":1.2745},
{"i":408,"o":1.2745,"h":1.2748,"l":1.2742,"c":1.2746},
{"i":409,"o":1.2746,"h":1.2749,"l":1.2743,"c":1.2745},
{"i":410,"o":1.2745,"h":1.2748,"l":1.2743,"c":1.2746},
{"i":411,"o":1.2746,"h":1.2749,"l":1.2744,"c":1.2747},
{"i":412,"o":1.2747,"h":1.2750,"l":1.2744,"c":1.2746},
{"i":413,"o":1.2746,"h":1.2749,"l":1.2744,"c":1.2747},
{"i":414,"o":1.2747,"h":1.2750,"l":1.2744,"c":1.2746},
{"i":415,"o":1.2746,"h":1.2748,"l":1.2743,"c":1.2745},
{"i":416,"o":1.2745,"h":1.2747,"l":1.2735,"c":1.2737},
{"i":417,"o":1.2737,"h":1.2739,"l":1.2723,"c":1.2725},
{"i":418,"o":1.2725,"h":1.2727,"l":1.2713,"c":1.2715},
{"i":419,"o":1.2715,"h":1.2718,"l":1.2712,"c":1.2714},
{"i":420,"o":1.2714,"h":1.2716,"l":1.2710,"c":1.2712},
{"i":421,"o":1.2712,"h":1.2714,"l":1.2709,"c":1.2711},
{"i":422,"o":1.2711,"h":1.2713,"l":1.2697,"c":1.2705},
{"i":423,"o":1.2705,"h":1.2709,"l":1.2703,"c":1.2707},
{"i":424,"o":1.2707,"h":1.2711,"l":1.2705,"c":1.2709},
{"i":425,"o":1.2709,"h":1.2711,"l":1.2704,"c":1.2706},
{"i":426,"o":1.2706,"h":1.2711,"l":1.2704,"c":1.2709},
{"i":427,"o":1.2709,"h":1.2725,"l":1.2707,"c":1.2718},
{"i":428,"o":1.2718,"h":1.2730,"l":1.2699,"c":1.2704},
{"i":429,"o":1.2704,"h":1.2711,"l":1.2702,"c":1.2709},
{"i":430,"o":1.2709,"h":1.2711,"l":1.2703,"c":1.2705},
{"i":431,"o":1.2705,"h":1.2707,"l":1.2684,"c":1.2701},
{"i":432,"o":1.2701,"h":1.2707,"l":1.2699,"c":1.2705},
{"i":433,"o":1.2705,"h":1.2720,"l":1.2703,"c":1.2718},
{"i":434,"o":1.2718,"h":1.2721,"l":1.2715,"c":1.2718},
{"i":435,"o":1.2718,"h":1.2721,"l":1.2716,"c":1.2719},
{"i":436,"o":1.2719,"h":1.2721,"l":1.2713,"c":1.2715},
{"i":437,"o":1.2715,"h":1.2722,"l":1.2713,"c":1.2720},
{"i":438,"o":1.2720,"h":1.2736,"l":1.2718,"c":1.2733},
{"i":439,"o":1.2733,"h":1.2736,"l":1.2710,"c":1.2712},
{"i":440,"o":1.2712,"h":1.2718,"l":1.2710,"c":1.2716},
{"i":441,"o":1.2716,"h":1.2718,"l":1.2705,"c":1.2707},
{"i":442,"o":1.2707,"h":1.2710,"l":1.2705,"c":1.2708},
{"i":443,"o":1.2708,"h":1.2711,"l":1.2706,"c":1.2709},
{"i":444,"o":1.2709,"h":1.2711,"l":1.2705,"c":1.2708},
{"i":445,"o":1.2708,"h":1.2710,"l":1.2696,"c":1.2698},
{"i":446,"o":1.2698,"h":1.2701,"l":1.2689,"c":1.2697},
{"i":447,"o":1.2697,"h":1.2701,"l":1.2695,"c":1.2699},
{"i":448,"o":1.2699,"h":1.2713,"l":1.2697,"c":1.2711},
{"i":449,"o":1.2711,"h":1.2714,"l":1.2709,"c":1.2712},
{"i":450,"o":1.2712,"h":1.2714,"l":1.2707,"c":1.2709},
{"i":451,"o":1.2709,"h":1.2712,"l":1.2706,"c":1.2709},
{"i":452,"o":1.2709,"h":1.2711,"l":1.2705,"c":1.2707},
{"i":453,"o":1.2707,"h":1.2720,"l":1.2705,"c":1.2718},
{"i":454,"o":1.2718,"h":1.2720,"l":1.2715,"c":1.2717},
{"i":455,"o":1.2717,"h":1.2719,"l":1.2714,"c":1.2716},
{"i":456,"o":1.2716,"h":1.2717,"l":1.2709,"c":1.2710},
{"i":457,"o":1.2710,"h":1.2715,"l":1.2709,"c":1.2714},
{"i":458,"o":1.2714,"h":1.2723,"l":1.2712,"c":1.2722},
{"i":459,"o":1.2722,"h":1.2726,"l":1.2720,"c":1.2725},
{"i":460,"o":1.2725,"h":1.2729,"l":1.2723,"c":1.2728},
{"i":461,"o":1.2728,"h":1.2732,"l":1.2726,"c":1.2731},
{"i":462,"o":1.2731,"h":1.2738,"l":1.2729,"c":1.2734},
{"i":463,"o":1.2734,"h":1.2736,"l":1.2729,"c":1.2731},
{"i":464,"o":1.2731,"h":1.2735,"l":1.2729,"c":1.2733},
{"i":465,"o":1.2733,"h":1.2737,"l":1.2731,"c":1.2736},
{"i":466,"o":1.2736,"h":1.2739,"l":1.2733,"c":1.2735},
{"i":467,"o":1.2735,"h":1.2738,"l":1.2731,"c":1.2733},
{"i":468,"o":1.2733,"h":1.2736,"l":1.2729,"c":1.2731},
{"i":469,"o":1.2731,"h":1.2735,"l":1.2729,"c":1.2733},
{"i":470,"o":1.2733,"h":1.2736,"l":1.2730,"c":1.2731},
{"i":471,"o":1.2731,"h":1.2735,"l":1.2729,"c":1.2734},
{"i":472,"o":1.2734,"h":1.2737,"l":1.2731,"c":1.2733},
{"i":473,"o":1.2733,"h":1.2736,"l":1.2730,"c":1.2733},
{"i":474,"o":1.2733,"h":1.2735,"l":1.2723,"c":1.2724},
{"i":475,"o":1.2724,"h":1.2726,"l":1.2710,"c":1.2720},
{"i":476,"o":1.2720,"h":1.2740,"l":1.2718,"c":1.2739},
{"i":477,"o":1.2739,"h":1.2748,"l":1.2737,"c":1.2742},
{"i":478,"o":1.2742,"h":1.2747,"l":1.2740,"c":1.2746},
{"i":479,"o":1.2746,"h":1.2748,"l":1.2735,"c":1.2737},
{"i":480,"o":1.2737,"h":1.2742,"l":1.2735,"c":1.2738},
{"i":481,"o":1.2738,"h":1.2740,"l":1.2729,"c":1.2731},
{"i":482,"o":1.2731,"h":1.2735,"l":1.2729,"c":1.2733},
{"i":483,"o":1.2733,"h":1.2735,"l":1.2708,"c":1.2710},
{"i":484,"o":1.2710,"h":1.2712,"l":1.2688,"c":1.2700},
{"i":485,"o":1.2700,"h":1.2717,"l":1.2698,"c":1.2715},
{"i":486,"o":1.2715,"h":1.2722,"l":1.2713,"c":1.2718},
{"i":487,"o":1.2718,"h":1.2720,"l":1.2709,"c":1.2711},
{"i":488,"o":1.2711,"h":1.2717,"l":1.2709,"c":1.2715},
{"i":489,"o":1.2715,"h":1.2717,"l":1.2708,"c":1.2710},
{"i":490,"o":1.2710,"h":1.2712,"l":1.2702,"c":1.2705},
{"i":491,"o":1.2705,"h":1.2726,"l":1.2694,"c":1.2720},
{"i":492,"o":1.2720,"h":1.2724,"l":1.2717,"c":1.2721},
{"i":493,"o":1.2721,"h":1.2727,"l":1.2718,"c":1.2721},
{"i":494,"o":1.2721,"h":1.2723,"l":1.2713,"c":1.2715},
{"i":495,"o":1.2715,"h":1.2724,"l":1.2713,"c":1.2722},
{"i":496,"o":1.2722,"h":1.2725,"l":1.2719,"c":1.2722},
{"i":497,"o":1.2722,"h":1.2724,"l":1.2715,"c":1.2717},
{"i":498,"o":1.2717,"h":1.2723,"l":1.2715,"c":1.2720},
{"i":499,"o":1.2720,"h":1.2723,"l":1.2718,"c":1.2721},
{"i":500,"o":1.2721,"h":1.2723,"l":1.2714,"c":1.2716},
{"i":501,"o":1.2716,"h":1.2718,"l":1.2708,"c":1.2710},
{"i":502,"o":1.2710,"h":1.2713,"l":1.2708,"c":1.2711},
{"i":503,"o":1.2711,"h":1.2714,"l":1.2709,"c":1.2712},
{"i":504,"o":1.2712,"h":1.2714,"l":1.2704,"c":1.2708},
{"i":505,"o":1.2708,"h":1.2713,"l":1.2706,"c":1.2711},
{"i":506,"o":1.2711,"h":1.2714,"l":1.2709,"c":1.2712},
{"i":507,"o":1.2712,"h":1.2716,"l":1.2710,"c":1.2714},
{"i":508,"o":1.2714,"h":1.2716,"l":1.2709,"c":1.2711},
{"i":509,"o":1.2711,"h":1.2713,"l":1.2708,"c":1.2711},
{"i":510,"o":1.2711,"h":1.2713,"l":1.2707,"c":1.2710},
{"i":511,"o":1.2710,"h":1.2712,"l":1.2703,"c":1.2705},
{"i":512,"o":1.2705,"h":1.2713,"l":1.2703,"c":1.2711},
{"i":513,"o":1.2711,"h":1.2736,"l":1.2709,"c":1.2724},
{"i":514,"o":1.2724,"h":1.2727,"l":1.2717,"c":1.2719},
{"i":515,"o":1.2719,"h":1.2730,"l":1.2717,"c":1.2728},
{"i":516,"o":1.2728,"h":1.2731,"l":1.2725,"c":1.2728},
{"i":517,"o":1.2728,"h":1.2733,"l":1.2726,"c":1.2729},
{"i":518,"o":1.2729,"h":1.2731,"l":1.2726,"c":1.2729},
{"i":519,"o":1.2729,"h":1.2732,"l":1.2727,"c":1.2730},
{"i":520,"o":1.2730,"h":1.2741,"l":1.2728,"c":1.2739},
{"i":521,"o":1.2739,"h":1.2741,"l":1.2727,"c":1.2729},
{"i":522,"o":1.2729,"h":1.2744,"l":1.2727,"c":1.2742},
{"i":523,"o":1.2742,"h":1.2758,"l":1.2740,"c":1.2747},
{"i":524,"o":1.2747,"h":1.2750,"l":1.2738,"c":1.2740},
{"i":525,"o":1.2740,"h":1.2742,"l":1.2731,"c":1.2733},
{"i":526,"o":1.2733,"h":1.2735,"l":1.2729,"c":1.2732},
{"i":527,"o":1.2732,"h":1.2739,"l":1.2730,"c":1.2737},
{"i":528,"o":1.2737,"h":1.2739,"l":1.2713,"c":1.2717},
{"i":529,"o":1.2717,"h":1.2720,"l":1.2711,"c":1.2718},
{"i":530,"o":1.2718,"h":1.2728,"l":1.2716,"c":1.2726},
{"i":531,"o":1.2726,"h":1.2739,"l":1.2724,"c":1.2733},
{"i":532,"o":1.2733,"h":1.2736,"l":1.2729,"c":1.2731},
{"i":533,"o":1.2731,"h":1.2733,"l":1.2725,"c":1.2727},
{"i":534,"o":1.2727,"h":1.2730,"l":1.2725,"c":1.2728},
{"i":535,"o":1.2728,"h":1.2744,"l":1.2726,"c":1.2737},
{"i":536,"o":1.2737,"h":1.2757,"l":1.2735,"c":1.2748},
{"i":537,"o":1.2748,"h":1.2750,"l":1.2742,"c":1.2744},
{"i":538,"o":1.2744,"h":1.2748,"l":1.2741,"c":1.2745},
{"i":539,"o":1.2745,"h":1.2749,"l":1.2742,"c":1.2746},
{"i":540,"o":1.2746,"h":1.2754,"l":1.2744,"c":1.2749},
{"i":541,"o":1.2749,"h":1.2759,"l":1.2745,"c":1.2747},
{"i":542,"o":1.2747,"h":1.2752,"l":1.2744,"c":1.2750},
{"i":543,"o":1.2750,"h":1.2753,"l":1.2746,"c":1.2749},
{"i":544,"o":1.2749,"h":1.2752,"l":1.2744,"c":1.2747},
{"i":545,"o":1.2747,"h":1.2752,"l":1.2745,"c":1.2750},
{"i":546,"o":1.2750,"h":1.2753,"l":1.2745,"c":1.2748},
{"i":547,"o":1.2748,"h":1.2754,"l":1.2746,"c":1.2752},
{"i":548,"o":1.2752,"h":1.2757,"l":1.2750,"c":1.2755},
{"i":549,"o":1.2755,"h":1.2757,"l":1.2751,"c":1.2754},
{"i":550,"o":1.2754,"h":1.2756,"l":1.2747,"c":1.2749},
{"i":551,"o":1.2749,"h":1.2751,"l":1.2745,"c":1.2747},
{"i":552,"o":1.2747,"h":1.2750,"l":1.2745,"c":1.2748},
{"i":553,"o":1.2748,"h":1.2752,"l":1.2746,"c":1.2749},
{"i":554,"o":1.2749,"h":1.2752,"l":1.2747,"c":1.2750},
{"i":555,"o":1.2750,"h":1.2752,"l":1.2746,"c":1.2748},
{"i":556,"o":1.2748,"h":1.2750,"l":1.2745,"c":1.2747},
{"i":557,"o":1.2747,"h":1.2750,"l":1.2744,"c":1.2747},
{"i":558,"o":1.2747,"h":1.2750,"l":1.2745,"c":1.2748},
{"i":559,"o":1.2748,"h":1.2750,"l":1.2742,"c":1.2744},
{"i":560,"o":1.2744,"h":1.2746,"l":1.2734,"c":1.2736},
{"i":561,"o":1.2736,"h":1.2738,"l":1.2729,"c":1.2731},
{"i":562,"o":1.2731,"h":1.2733,"l":1.2726,"c":1.2728},
{"i":563,"o":1.2728,"h":1.2733,"l":1.2726,"c":1.2731},
{"i":564,"o":1.2731,"h":1.2735,"l":1.2729,"c":1.2733},
{"i":565,"o":1.2733,"h":1.2738,"l":1.2731,"c":1.2734},
{"i":566,"o":1.2734,"h":1.2736,"l":1.2729,"c":1.2731},
{"i":567,"o":1.2731,"h":1.2733,"l":1.2726,"c":1.2729},
{"i":568,"o":1.2729,"h":1.2732,"l":1.2726,"c":1.2730},
{"i":569,"o":1.2730,"h":1.2733,"l":1.2728,"c":1.2731},
{"i":570,"o":1.2731,"h":1.2735,"l":1.2729,"c":1.2733},
{"i":571,"o":1.2733,"h":1.2735,"l":1.2724,"c":1.2726},
{"i":572,"o":1.2726,"h":1.2736,"l":1.2724,"c":1.2731},
{"i":573,"o":1.2731,"h":1.2737,"l":1.2717,"c":1.2719},
{"i":574,"o":1.2719,"h":1.2721,"l":1.2711,"c":1.2713},
{"i":575,"o":1.2713,"h":1.2716,"l":1.2709,"c":1.2711},
{"i":576,"o":1.2711,"h":1.2713,"l":1.2698,"c":1.2700},
{"i":577,"o":1.2700,"h":1.2702,"l":1.2693,"c":1.2695},
{"i":578,"o":1.2695,"h":1.2709,"l":1.2693,"c":1.2707},
{"i":579,"o":1.2707,"h":1.2713,"l":1.2693,"c":1.2695},
{"i":580,"o":1.2695,"h":1.2698,"l":1.2691,"c":1.2694},
{"i":581,"o":1.2694,"h":1.2701,"l":1.2663,"c":1.2665},
{"i":582,"o":1.2665,"h":1.2667,"l":1.2643,"c":1.2645},
{"i":583,"o":1.2645,"h":1.2648,"l":1.2636,"c":1.2639},
{"i":584,"o":1.2639,"h":1.2643,"l":1.2635,"c":1.2638},
{"i":585,"o":1.2638,"h":1.2649,"l":1.2634,"c":1.2637},
{"i":586,"o":1.2637,"h":1.2639,"l":1.2619,"c":1.2620},
{"i":587,"o":1.2620,"h":1.2623,"l":1.2606,"c":1.2611},
{"i":588,"o":1.2611,"h":1.2642,"l":1.2609,"c":1.2639},
{"i":589,"o":1.2639,"h":1.2642,"l":1.2633,"c":1.2636},
{"i":590,"o":1.2636,"h":1.2652,"l":1.2634,"c":1.2650},
{"i":591,"o":1.2650,"h":1.2654,"l":1.2646,"c":1.2650},
{"i":592,"o":1.2650,"h":1.2656,"l":1.2648,"c":1.2653},
{"i":593,"o":1.2653,"h":1.2655,"l":1.2645,"c":1.2647},
{"i":594,"o":1.2647,"h":1.2652,"l":1.2645,"c":1.2650},
{"i":595,"o":1.2650,"h":1.2652,"l":1.2645,"c":1.2648},
{"i":596,"o":1.2648,"h":1.2650,"l":1.2641,"c":1.2643},
{"i":597,"o":1.2643,"h":1.2645,"l":1.2637,"c":1.2639},
{"i":598,"o":1.2639,"h":1.2641,"l":1.2634,"c":1.2636},
{"i":599,"o":1.2636,"h":1.2639,"l":1.2633,"c":1.2637},
{"i":600,"o":1.2637,"h":1.2640,"l":1.2634,"c":1.2638},
{"i":601,"o":1.2638,"h":1.2641,"l":1.2635,"c":1.2639},
{"i":602,"o":1.2639,"h":1.2642,"l":1.2636,"c":1.2639},
{"i":603,"o":1.2639,"h":1.2644,"l":1.2637,"c":1.2642},
{"i":604,"o":1.2642,"h":1.2646,"l":1.2639,"c":1.2642},
{"i":605,"o":1.2642,"h":1.2644,"l":1.2638,"c":1.2641},
{"i":606,"o":1.2641,"h":1.2643,"l":1.2625,"c":1.2634},
{"i":607,"o":1.2634,"h":1.2646,"l":1.2632,"c":1.2644},
{"i":608,"o":1.2644,"h":1.2646,"l":1.2635,"c":1.2637},
{"i":609,"o":1.2637,"h":1.2639,"l":1.2631,"c":1.2633},
{"i":610,"o":1.2633,"h":1.2635,"l":1.2627,"c":1.2629},
{"i":611,"o":1.2629,"h":1.2631,"l":1.2622,"c":1.2626},
{"i":612,"o":1.2626,"h":1.2628,"l":1.2621,"c":1.2625},
{"i":613,"o":1.26254,"h":1.26259,"l":1.26238,"c":1.26251}
]
},
"layer":[
{"data":{"name":"candles"},
 "mark":{"type":"rule","color":"#000000","strokeWidth":1.3},
 "encoding":{
  "x":{"field":"i","type":"quantitative","scale":{"domain":[-0.449,932.38],"nice":false,"zero":false},
   "axis":{"orient":"bottom","title":null,"zindex":0,"values":[0,16,32,48,64,80,96,112,128,144,160,176,192,208,224,240,256,272,288,304,320,336,352,368,384,400,416,432,448,464,480,496,512,528,544,560,576,592,608,624,640,656,672,688,704,720,736,752,768,784,800,816,832,848,864,880,896,912,928],
    "labelExpr":"(datum.value % 32 == 0 && datum.value <= 608) ? ['12 Jun 2023','13 Jun 03:00','13 Jun 19:00','14 Jun 11:00','15 Jun 03:00','15 Jun 19:00','16 Jun 11:00','19 Jun 03:00','19 Jun 19:00','20 Jun 11:00','21 Jun 03:00','21 Jun 19:00','22 Jun 11:00','23 Jun 03:00','23 Jun 19:00','26 Jun 11:00','27 Jun 03:00','27 Jun 19:00','28 Jun 11:00','29 Jun 03:00'][floor(datum.value / 32)] : ''",
    "labelAlign":"left","labelBaseline":"top","labelPadding":5,"labelFontSize":18.5,"labelColor":"#000000","labelOverlap":false,"labelFlush":false,
    "tickSize":3,"tickColor":"#000000","tickOpacity":{"condition":{"test":"datum.value % 32 == 0 && datum.value <= 608","value":1},"value":0},
    "domainColor":"#000000","grid":true,"gridColor":"#c4c4c4","gridDash":[4,4]}},
  "y":{"field":"l","type":"quantitative","scale":{"domain":[1.23947,1.294969],"nice":false,"zero":false},
   "axis":{"orient":"right","title":null,"zindex":0,"values":[1.29415,1.2923,1.29045,1.2886,1.28675,1.2849,1.28305,1.2812,1.27935,1.2775,1.27565,1.2738,1.27195,1.2701,1.26825,1.2664,1.26455,1.2627,1.26085,1.259,1.25715,1.2553,1.25345,1.2516,1.24975,1.2479,1.24605,1.2442,1.24235,1.2405],
    "labelExpr":"indexof([1.27565,1.2664,1.2627,1.25715,1.2479], datum.value) >= 0 ? '' : format(datum.value, '.5f')",
    "labelAlign":"left","labelBaseline":"middle","labelPadding":5,"labelFontSize":17.7,"labelColor":"#000000","labelOverlap":false,"labelFlush":false,
    "tickSize":5,"tickColor":"#000000","domainColor":"#000000","grid":true,"gridColor":"#c4c4c4","gridDash":[4,4]}},
  "y2":{"field":"h"}
 }},
{"data":{"name":"levels"},
 "mark":{"type":"rule"},
 "encoding":{
  "y":{"field":"price","type":"quantitative"},
  "stroke":{"field":"lvl","type":"nominal","legend":null,"scale":{"domain":["+2/8","+1/8","res","7/8","6/8","bid","5/8","pivot","3/8","2/8","1/8","sup","-1/8"],"range":["#C71585","#FF00FF","#1E90FF","#FF8C00","#FF4500","#B4B4B4","#556B2F","#1E90FF","#556B2F","#FF4500","#FF8C00","#1E90FF","#FF00FF"]}},
  "strokeDash":{"field":"lvl","type":"nominal","legend":null,"scale":{"domain":["+2/8","+1/8","res","7/8","6/8","bid","5/8","pivot","3/8","2/8","1/8","sup","-1/8"],"range":[[22,8],[22,8],[1,0],[22,8],[22,8],[1,0],[22,8],[1,0],[22,8],[22,8],[18,4,3,4],[1,0],[18,4,3,4]]}},
  "strokeWidth":{"condition":{"test":"datum.lvl == 'res'","value":2},"value":1}
 }},
{"data":{"name":"levels"},
 "transform":[{"filter":"datum.lvl != 'bid'"}],
 "mark":{"type":"text","align":"center","baseline":"alphabetic","dy":19.5,"fontSize":21},
 "encoding":{
  "x":{"datum":588.2,"type":"quantitative"},
  "y":{"field":"price","type":"quantitative"},
  "text":{"field":"label"},
  "color":{"field":"lvl","type":"nominal","legend":null,"scale":{"domain":["+2/8","+1/8","res","7/8","6/8","5/8","pivot","3/8","2/8","1/8","sup","-1/8"],"range":["#C71585","#FF00FF","#1E90FF","#FF8C00","#FF4500","#556B2F","#1E90FF","#556B2F","#FF4500","#FF8C00","#1E90FF","#FF00FF"]}}
 }},
{"data":{"name":"candles"},
 "mark":{"type":"rule","color":"#000000","strokeWidth":1.3},
 "encoding":{
  "x":{"field":"i","type":"quantitative"},
  "y":{"field":"l","type":"quantitative"},
  "y2":{"field":"h"}
 }},
{"data":{"name":"candles"},
 "mark":{"type":"bar","width":2.4,"stroke":"#000000","strokeWidth":1},
 "encoding":{
  "x":{"field":"i","type":"quantitative"},
  "y":{"field":"o","type":"quantitative"},
  "y2":{"field":"c"},
  "fill":{"condition":{"test":"datum.c < datum.o","value":"#000000"},"value":"#ffffff"}
 }},
{"data":{"name":"trend"},
 "transform":[{"filter":{"field":"id","oneOf":["b1","b2"]}}],
 "mark":{"type":"line","color":"#4659EE","strokeWidth":6,"strokeCap":"round"},
 "encoding":{
  "x":{"field":"i","type":"quantitative"},
  "y":{"field":"p","type":"quantitative"},
  "detail":{"field":"id"}
 }},
{"data":{"name":"trend"},
 "transform":[{"filter":{"field":"id","oneOf":["g1","g2"]}}],
 "mark":{"type":"line","color":"#10A884","strokeWidth":6,"strokeCap":"round"},
 "encoding":{
  "x":{"field":"i","type":"quantitative"},
  "y":{"field":"p","type":"quantitative"},
  "detail":{"field":"id"}
 }},
{"data":{"name":"arrows"},
 "transform":[{"filter":{"field":"id","oneOf":["a1","a2","a5"]}}],
 "mark":{"type":"line","color":"#F04545","strokeWidth":5,"strokeCap":"butt"},
 "encoding":{
  "x":{"field":"i","type":"quantitative"},
  "y":{"field":"p","type":"quantitative"},
  "detail":{"field":"id"}
 }},
{"data":{"name":"arrows"},
 "transform":[{"filter":{"field":"id","oneOf":["a3","a4"]}}],
 "mark":{"type":"line","color":"#F04545","strokeWidth":6,"strokeCap":"butt","strokeDash":[6,8]},
 "encoding":{
  "x":{"field":"i","type":"quantitative"},
  "y":{"field":"p","type":"quantitative"},
  "detail":{"field":"id"}
 }},
{"data":{"name":"heads"},
 "mark":{"type":"point","shape":"M0,0L-0.38,1L0.38,1Z","size":3136,"filled":true,"color":"#F04545","opacity":1,"strokeWidth":0},
 "encoding":{
  "x":{"field":"i","type":"quantitative"},
  "y":{"field":"p","type":"quantitative"},
  "angle":{"condition":[{"test":"datum.id == 'a1'","value":156.1},{"test":"datum.id == 'a2'","value":20.9},{"test":"datum.id == 'a3'","value":22.1},{"test":"datum.id == 'a4'","value":147.9}],"value":146.2}
 }},
{"data":{"name":"levels"},
 "mark":{"type":"point","shape":"M-1,-0.26L1,-0.26L1,0.26L-1,0.26Z","size":6561,"filled":true,"opacity":1,"strokeWidth":0},
 "encoding":{
  "x":{"datum":942.73,"type":"quantitative"},
  "y":{"field":"price","type":"quantitative"},
  "fill":{"field":"lvl","type":"nominal","legend":null,"scale":{"domain":["+2/8","+1/8","res","7/8","6/8","bid","5/8","pivot","3/8","2/8","1/8","sup","-1/8"],"range":["#C71585","#FF00FF","#1E90FF","#FF8C00","#FF4500","#000000","#556B2F","#1E90FF","#556B2F","#FF4500","#FF8C00","#1E90FF","#FF00FF"]}}
 }},
{"data":{"name":"levels"},
 "mark":{"type":"text","align":"left","baseline":"middle","fontSize":17.7,"color":"#ffffff"},
 "encoding":{
  "x":{"datum":935.1,"type":"quantitative"},
  "y":{"field":"price","type":"quantitative"},
  "text":{"field":"price","type":"quantitative","format":".5f"}
 }},
{"data":{"name":"header"},
 "mark":{"type":"point","shape":"triangle-down","size":81,"filled":true,"color":"#000000","opacity":1},
 "encoding":{
  "x":{"datum":1.67,"type":"quantitative"},
  "y":{"datum":1.29454,"type":"quantitative"}
 }},
{"data":{"name":"header"},
 "mark":{"type":"text","align":"left","baseline":"alphabetic","fontSize":18,"color":"#000000"},
 "encoding":{
  "x":{"datum":6.53,"type":"quantitative"},
  "y":{"datum":1.2943,"type":"quantitative"},
  "text":{"field":"txt"}
 }}
]
}
